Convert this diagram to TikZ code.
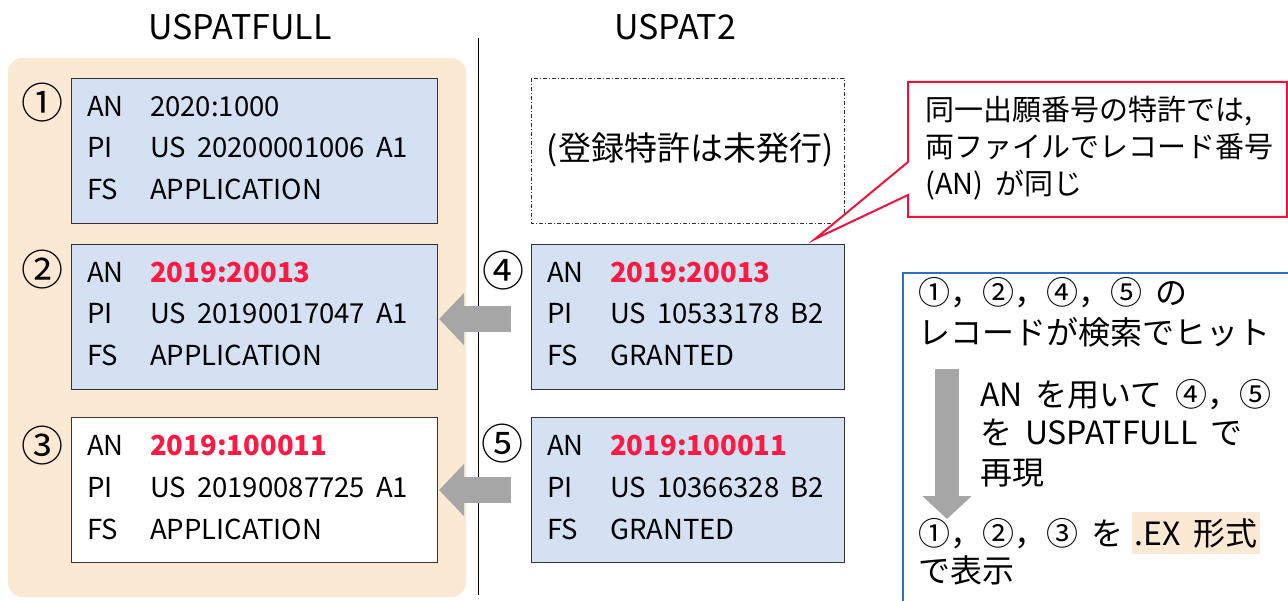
\documentclass[tikz,border=0pt]{standalone}
\usepackage{fontspec}
\setmainfont[WordSpace=1.8]{Noto Sans CJK JP}
\usetikzlibrary{arrows.meta,positioning}
\definecolor{recblue}{HTML}{D3E1F3}
\definecolor{fullbg}{HTML}{FCE9D3}
\definecolor{anred}{HTML}{FF1A44}
\definecolor{notered}{HTML}{F0143C}
\definecolor{noteblue}{HTML}{2F6EBA}
\definecolor{arrgrey}{HTML}{A6A6A6}
\definecolor{edgegrey}{HTML}{333333}
\tikzset{
  rec/.style={draw=edgegrey,line width=1.1pt,fill=recblue,minimum width=366pt,
              minimum height=145pt,anchor=north west,inner sep=0pt},
  recr/.style={rec,minimum width=313pt},
  recw/.style={rec,fill=white},
  fld/.style={anchor=base west,inner sep=0pt,font=\fontsize{27.5}{33}\selectfont},
  recnum/.style={inner sep=0pt,font=\fontsize{42}{42}\selectfont},
  ttl/.style={anchor=base,inner sep=0pt,font=\fontsize{34}{40}\selectfont},
  blockarr/.style={draw=arrgrey,line width=26pt,-{Triangle[width=51pt,length=25pt]}},
  notetxt/.style={anchor=base west,inner sep=0pt,font=\fontsize{29}{35}\selectfont},
  steptxt/.style={anchor=base west,inner sep=0pt,font=\fontsize{32}{38}\selectfont},
}
\newcommand{\hitan}[1]{\textcolor{anred}{\bfseries #1}}

\begin{document}
\begin{tikzpicture}[x=1pt,y=-1pt]
  \useasboundingbox (0,0) rectangle (1288,601);
  % ---- column titles and divider ----
  \node[ttl] (tFull) at (240,40) {USPATFULL};
  \node[ttl] (tTwo)  at (675,40) {USPAT2};
  \draw[line width=1pt] (478,38) -- (478,595);

  % ---- USPATFULL background ----
  \fill[fullbg,rounded corners=14pt] (8,58) rectangle (466,597);

  % ---- records ----
  \foreach \nm/\st/\x/\y/\an/\pinum/\fs in {
      rA/rec/71/78/{2020:1000}/{US 20200001006 A1}/APPLICATION,
      rB/rec/71/244/{\hitan{2019:20013}}/{US 20190017047 A1}/APPLICATION,
      rC/recw/71/417/{\hitan{2019:100011}}/{US 20190087725 A1}/APPLICATION,
      rD/recr/531/244/{\hitan{2019:20013}}/{US 10533178 B2}/GRANTED,
      rE/recr/531/417/{\hitan{2019:100011}}/{US 10366328 B2}/GRANTED}{
    \node[\st] (\nm) at (\x,\y) {};
    \node[fld] at (\x+16,\y+39)  {AN};
    \node[fld] at (\x+79,\y+39)  {\an};
    \node[fld] at (\x+16,\y+80)  {PI};
    \node[fld] at (\x+79,\y+80)  {\pinum};
    \node[fld] at (\x+16,\y+122) {FS};
    \node[fld] at (\x+79,\y+122) {\fs};
  }
  \node[recnum] (nA) at (42,103) {①};
  \node[recnum] (nB) at (42,270) {②};
  \node[recnum] (nC) at (42,446) {③};
  \node[recnum] (nD) at (503,271) {④};
  \node[recnum] (nE) at (502,444) {⑤};

  % unissued patent placeholder
  \draw[draw=edgegrey,line width=0.8pt,dash pattern=on 4pt off 2pt on 1pt off 2pt]
    (531,78) rectangle (844,223);
  \node[inner sep=0pt,font=\fontsize{33}{40}\selectfont] (noGrant) at (690,150)
    {(登録特許は未発行)};

  % ---- AN lookup arrows ----
  \draw[blockarr] ([xshift=-20pt,yshift=-2pt]rD.west) -- ([xshift=1pt,yshift=-2pt]rB.east);
  \draw[blockarr] ([xshift=-20pt]rE.west) -- ([xshift=1pt]rC.east);

  % ---- callout ----
  \coordinate (calloutTip) at (815,239);
  \draw[draw=notered,line width=2pt,fill=white]
    (908,82) -- (1287,82) -- (1287,217) -- (908,217) -- (908,195)
    -- (calloutTip) -- (908,162) -- cycle;
  \node[notetxt] (cl1) at (925,121) {同一出願番号の特許では,};
  \node[notetxt] (cl2) at (925,158) {両ファイルでレコード番号};
  \node[notetxt] (cl3) at (925,195) {(AN) が同じ};

  % ---- search steps ----
  \draw[draw=noteblue,line width=2pt,fill=white] (903,273) rectangle (1300,612);
  \node[steptxt] (s1) at (918,305) {①，②，④，⑤ の};
  \node[steptxt] (s2) at (918,345) {レコードが検索でヒット};
  \coordinate (dnTop) at (947,369);
  \coordinate (dnEnd) at (947,519);
  \draw[blockarr,line width=24pt,-{Triangle[width=48pt,length=23pt]}] (dnTop) -- (dnEnd);
  \node[steptxt] (s3) at (980,407) {AN を用いて ④，⑤};
  \node[steptxt] (s4) at (980,445) {を USPATFULL で};
  \node[steptxt] (s5) at (980,484) {再現};
  \node[steptxt] (s6) at (918,545) {①，②，③ を};
  \node[steptxt,fill=fullbg,inner xsep=3pt,inner ysep=6pt,anchor=base west]
    (s6ex) at ([xshift=8pt]s6.base east) {.EX 形式};
  \node[steptxt] (s7) at (918,582) {で表示};
\end{tikzpicture}
\end{document}
